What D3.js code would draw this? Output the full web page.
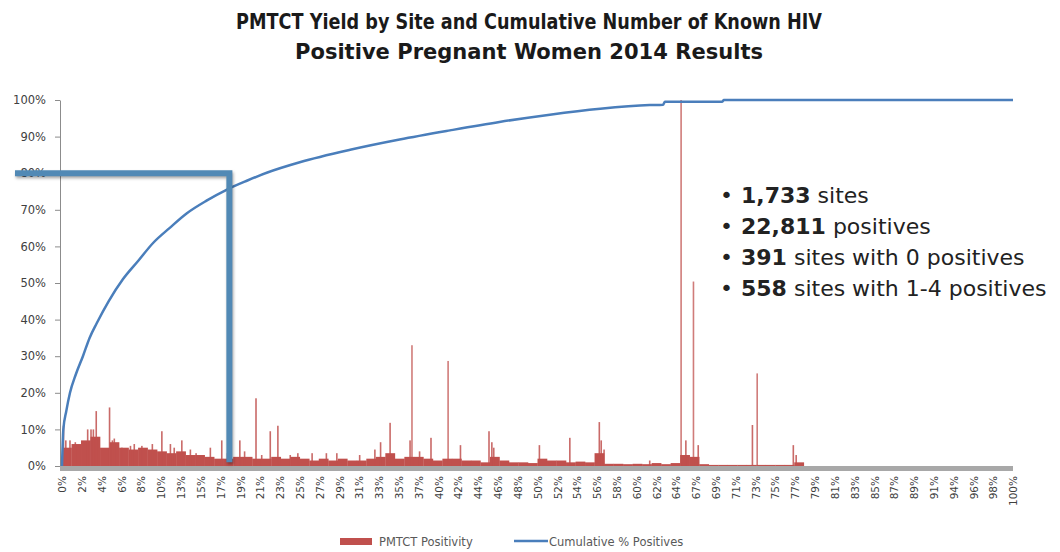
<!DOCTYPE html>
<html>
<head>
<meta charset="utf-8">
<script src="https://cdn.jsdelivr.net/npm/d3@7"></script>
<style>
  body { margin: 0; background: #fff; }
  svg { display: block; }
</style>
</head>
<body>
<svg id="chart" width="1060" height="552"></svg>
<script>
// PMTCT yield by site (bars) + cumulative % of positives (line)

// base level of the red bars, one value per 1% of sites (in %)
var basePositivity = [5, 6, 7, 8, 5, 6.5, 5, 4.5, 5, 4.5,
    4, 3.5, 4, 3, 3, 2.5, 2, 2, 2.5, 2.5,
    2, 2, 2.5, 2, 2.5, 2, 1.5, 2, 1.5, 2,
    1.5, 1.5, 2, 2.5, 3.5, 2, 2.5, 2.5, 2, 1.5,
    2, 2, 1.5, 1.5, 1, 2.5, 1.5, 1, 1, 0.8,
    2, 1.5, 1.5, 1, 1.2, 1, 3.5, 0.6, 0.6, 0.5,
    0.6, 0.5, 0.8, 0.5, 0.8, 3, 2.5, 0.5, 0.3, 0.3,
    0.3, 0.3, 0.3, 0.3, 0.3, 0.3, 0.3, 1]

// single sites that stick out: position (% of sites) and positivity (%)
var spikeSite = [0.16, 0.4, 0.84, 1.4, 2.7, 3.05, 3.3, 3.6, 5.0, 5.3,
    5.5, 6.3, 7.2, 7.6, 8.4, 9.5, 10.5, 11.4, 11.8, 12.6,
    13.5, 14.1, 15.6, 16.8, 17.4, 18.7, 19.2, 20.4, 21.0, 21.9,
    22.7, 24.0, 24.8, 26.3, 27.8, 28.9, 31.3, 32.9, 33.5, 34.5,
    36.6, 36.8, 37.6, 38.8, 40.6, 41.9, 44.9, 45.2, 45.4, 50.2,
    53.4, 56.5, 56.7, 57.0, 61.8, 65.1, 65.6, 66.4, 66.9, 72.6,
    73.1, 76.9, 77.2]
var spikeValue = [11, 7, 7, 6.5, 10, 10, 10, 15, 16, 7,
    7.5, 5, 5.5, 6, 5.5, 6, 9.5, 6, 5, 7,
    4.5, 3.5, 5, 7, 3.5, 7, 4, 18.5, 3, 9.5,
    11, 3, 3.5, 3.5, 3.5, 3.5, 3, 4.5, 6.5, 11.8,
    7, 33, 4, 7.7, 28.7, 5.7, 9.5, 6.5, 5, 5.7,
    7.7, 12, 7, 4.5, 1.5, 100, 7, 50.4, 5.7, 11.2,
    25.3, 5.7, 3]

// cumulative % of positives against % of sites
var cumSite = [0, 0.14, 0.45, 0.84, 1.45, 2.2, 2.9, 3.65, 4.9, 6.4,
    8.0, 9.6, 11.3, 13.1, 15.2, 17.4, 19.5, 21.6, 25, 30.3,
    35.5, 40.8, 46, 51.3, 56.6, 61.8, 63.2, 63.4, 69.4, 69.6, 100]
var cumPct = [0, 10, 15, 20, 25, 30, 35, 39, 45, 51,
    56, 61, 65, 69, 72.5, 75.6, 78, 80.2, 83.0, 86.4,
    89.2, 91.7, 94.0, 96.0, 97.6, 98.6, 98.7, 99.5, 99.5, 100, 100]

var xLabels = ["0%", "2%", "4%", "6%", "8%", "10%", "13%", "15%", "17%", "19%",
    "21%", "23%", "25%", "27%", "29%", "31%", "33%", "35%", "37%", "40%",
    "42%", "44%", "46%", "48%", "50%", "52%", "54%", "56%", "58%", "60%",
    "62%", "64%", "67%", "69%", "71%", "73%", "75%", "77%", "79%", "81%",
    "83%", "85%", "87%", "89%", "91%", "94%", "96%", "98%", "100%"]

// the 80% marker drawn on the slide
var markPct = 80
var markSite = 17.6

var stats = [["1,733", " sites"], ["22,811", " positives"],
    ["391", " sites with 0 positives"], ["558", " sites with 1-4 positives"]]

var red = "#c0504d", blue = "#4a7ebb", grey = "#595959"
var plotLeft = 62, plotRight = 1013, plotTop = 100, plotBottom = 466

var svg = d3.select("#chart")

var x = d3.scaleLinear().domain([0, 100]).range([plotLeft, plotRight])
var y = d3.scaleLinear().domain([0, 100]).range([plotBottom, plotTop])

// title
var title = ["PMTCT Yield by Site and Cumulative Number of Known HIV",
    "Positive Pregnant Women 2014 Results"]
var titleLen = [586, 468]
svg.selectAll("text.title")
    .data(title)
    .enter().append("text")
    .attr("class", "title")
    .attr("x", 529)
    .attr("y", function (d, i) { return 29 + i * 30 })
    .attr("text-anchor", "middle")
    .attr("textLength", function (d, i) { return titleLen[i] })
    .attr("lengthAdjust", "spacingAndGlyphs")
    .style("font-family", "DejaVu Sans")
    .style("font-weight", "bold")
    .style("font-size", "22px")
    .style("fill", "#1a1a1a")
    .text(function (d) { return d })

// y axis
var yAxis = svg.append("g")
    .attr("transform", "translate(" + (plotLeft - 2) + ",0)")
    .call(d3.axisLeft(y)
        .tickValues(d3.range(0, 101, 10))
        .tickFormat(function (d) { return d + "%" })
        .tickSizeInner(5).tickSizeOuter(0).tickPadding(9))
yAxis.selectAll("path, line").attr("stroke", "#8c8c8c")
yAxis.selectAll("text")
    .style("font-family", "DejaVu Sans").style("font-size", "11.5px").style("fill", "#404040")

// base bars
var bw = x(1) - x(0)
svg.append("g").selectAll("rect")
    .data(basePositivity)
    .enter().append("rect")
    .attr("x", function (d, i) { return x(i) })
    .attr("width", bw + 0.3)
    .attr("y", function (d) { return y(d) })
    .attr("height", function (d) { return plotBottom - y(d) })
    .attr("fill", red)

// single-site spikes
svg.append("g").selectAll("rect")
    .data(spikeSite)
    .enter().append("rect")
    .attr("x", function (d) { return x(d) - 0.8 })
    .attr("width", 1.6)
    .attr("y", function (d, i) { return y(spikeValue[i]) })
    .attr("height", function (d, i) { return plotBottom - y(spikeValue[i]) })
    .attr("fill", red)
    .attr("fill-opacity", function (d, i) { return spikeValue[i] > 20 ? 0.75 : 0.85 })

// x axis: dense category ticks look like a grey band
svg.append("rect")
    .attr("x", plotLeft - 2).attr("y", plotBottom)
    .attr("width", plotRight - plotLeft + 2).attr("height", 5)
    .attr("fill", "#a8a8a8")

var xAxis = svg.append("g")
    .attr("transform", "translate(0," + plotBottom + ")")
    .call(d3.axisBottom(x)
        .tickValues(d3.range(49).map(function (i) { return i * 100 / 48 }))
        .tickFormat(function (d, i) { return xLabels[i] })
        .tickSize(0))
xAxis.select(".domain").remove()
xAxis.selectAll("text")
    .attr("transform", "rotate(-90)")
    .attr("x", -10).attr("y", 0).attr("dy", "0.35em")
    .style("text-anchor", "end")
    .style("font-family", "DejaVu Sans").style("font-size", "10.5px").style("fill", "#404040")

// cumulative line
var line = d3.line()
    .x(function (d) { return x(d) })
    .y(function (d, i) { return y(cumPct[i]) })
    .curve(d3.curveMonotoneX)
svg.append("path")
    .datum(cumSite)
    .attr("d", line)
    .attr("fill", "none")
    .attr("stroke", blue)
    .attr("stroke-width", 2.5)

// 80% marker
svg.append("path")
    .attr("d", "M" + (plotLeft - 47) + "," + y(markPct) + "H" + x(markSite) + "V" + y(1))
    .attr("fill", "none")
    .attr("stroke", "#5189b5")
    .attr("stroke-width", 6)
    .style("filter", "drop-shadow(1px 2px 1.5px rgba(0,0,0,0.35))")

// stats list
var list = svg.append("g").style("font-family", "DejaVu Sans").style("font-size", "22px").style("fill", "#222")
stats.forEach(function (s, i) {
    var yy = 203 + i * 31
    list.append("text").attr("x", 720).attr("y", yy).text("•")
    var t = list.append("text").attr("x", 741).attr("y", yy)
    t.append("tspan").style("font-weight", "bold").text(s[0])
    t.append("tspan").text(s[1])
})

// legend
var lg = svg.append("g").style("font-family", "DejaVu Sans").style("font-size", "11.5px").style("fill", grey)
lg.append("rect").attr("x", 340).attr("y", 538).attr("width", 32).attr("height", 7).attr("fill", red)
lg.append("text").attr("x", 379).attr("y", 546).text("PMTCT Positivity")
lg.append("line").attr("x1", 514).attr("x2", 548).attr("y1", 541).attr("y2", 541)
    .attr("stroke", blue).attr("stroke-width", 2.5)
lg.append("text").attr("x", 549).attr("y", 546).text("Cumulative % Positives")
</script>
</body>
</html>
